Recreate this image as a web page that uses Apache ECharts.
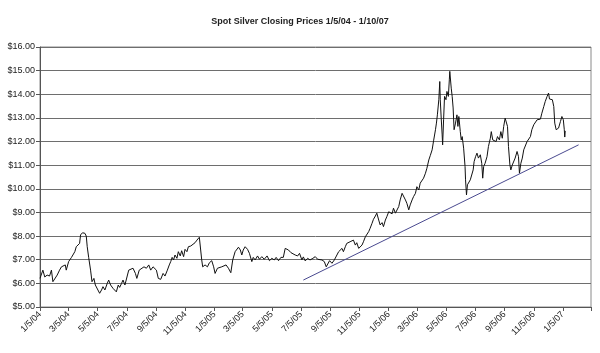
<!DOCTYPE html>
<html>
<head>
<meta charset="utf-8">
<script src="https://cdn.jsdelivr.net/npm/echarts@6/dist/echarts.min.js"></script>
<style>html,body{margin:0;padding:0;background:#fff}#c{width:600px;height:353px}</style>
</head>
<body>
<div id="c"></div>
<script>
// Axis range (calendar days) and start date
const startDate = '2004-01-05';
const endDate = '2007-03-05';
// Closing prices: days since 1/5/04, and price in $
const priceDays = [0,6,10,15,20,24,27,31,36,41,45,48,53,55,60,66,69,73,76,80,83,85,89,94,97,99,102,104,106,109,113,116,120,125,129,132,136,141,144,148,153,157,160,164,167,171,174,178,181,186,190,195,200,203,208,212,218,223,228,232,237,241,244,248,253,258,262,267,271,274,277,280,283,287,290,294,297,301,304,308,311,316,320,325,329,334,336,339,341,346,351,355,360,364,367,372,376,381,385,390,395,400,404,409,413,416,420,423,426,430,435,439,444,447,451,456,460,465,470,476,481,486,491,495,500,505,510,514,518,521,526,530,535,540,544,549,552,556,561,566,572,577,582,586,591,596,600,603,607,612,617,621,626,629,633,636,640,643,647,650,654,657,661,664,668,671,675,678,682,685,689,692,696,699,703,706,710,713,717,720,724,727,731,734,738,741,745,748,752,755,759,762,766,769,773,776,780,783,787,790,794,797,801,804,808,811,815,818,822,825,829,831,833,836,838,839,841,843,844,846,848,851,853,856,858,859,862,864,866,868,871,874,876,878,881,883,885,888,891,892,894,896,899,902,906,908,910,913,916,919,923,926,928,930,933,937,940,944,946,949,952,956,959,963,966,969,972,975,978,980,982,985,987,990,993,996,1000,1003,1005,1008,1011,1014,1017,1021,1024,1028,1031,1035,1038,1042,1045,1049,1052,1056,1059,1063,1066,1068,1071,1074,1077,1079,1082,1085,1087,1091,1094,1097,1099,1100,1101];
const prices = [6.21,6.56,6.27,6.35,6.31,6.56,6.07,6.03,6.35,6.56,6.70,6.64,6.78,6.56,6.92,7.10,7.06,7.34,7.55,7.62,7.69,8.05,8.14,8.12,8.00,7.55,7.10,7.10,6.56,6.07,6.21,5.93,5.93,5.58,5.72,5.86,5.72,6.00,6.14,5.93,5.79,5.86,5.64,5.93,5.83,6.00,6.14,5.93,5.93,6.56,6.49,6.64,6.42,6.21,6.56,6.64,6.70,6.64,6.78,6.56,6.70,6.78,6.56,6.21,6.17,6.42,6.31,6.56,6.78,6.92,7.10,6.99,7.20,7.06,7.34,7.16,7.38,7.13,7.44,7.34,7.55,7.58,7.66,7.72,7.83,7.95,7.91,6.99,6.70,6.78,6.70,6.87,6.96,6.70,6.42,6.64,6.56,6.70,6.64,6.78,6.64,6.45,6.99,7.34,7.27,7.53,7.41,7.20,7.41,7.55,7.44,7.27,6.92,7.10,6.99,7.16,7.02,7.13,7.02,7.16,6.96,7.06,6.99,7.10,6.96,7.10,7.10,7.48,7.53,7.41,7.30,7.38,7.20,7.16,7.27,6.99,7.12,6.95,7.06,6.99,7.06,7.13,7.02,7.10,6.99,6.92,6.70,6.64,6.96,6.85,6.99,6.99,7.34,7.27,7.48,7.34,7.55,7.69,7.62,7.76,7.69,7.83,7.62,7.72,7.48,7.55,7.62,7.76,7.97,8.05,8.19,8.33,8.54,8.71,8.85,8.97,8.68,8.47,8.57,8.40,8.68,8.82,9.03,9.11,8.94,9.18,8.97,8.89,9.25,9.53,9.81,9.74,9.53,9.39,9.11,9.32,9.53,9.67,9.81,10.09,9.95,10.24,10.24,10.45,10.66,10.87,11.22,11.40,11.65,12.03,12.50,12.78,13.13,13.77,14.54,13.77,12.99,12.28,11.86,12.92,13.91,13.77,14.12,13.91,14.61,14.97,14.26,13.91,13.42,12.50,12.78,13.13,12.64,13.06,12.42,12.07,12.21,11.72,10.94,10.38,9.74,10.17,10.09,10.38,10.31,10.80,11.15,11.36,11.51,11.30,11.44,11.08,10.45,10.94,11.08,11.36,11.79,12.14,12.42,12.07,12.14,12.00,12.21,12.07,12.42,12.14,12.64,12.99,13.03,12.64,11.79,11.01,10.80,11.01,10.94,11.30,11.58,11.36,10.66,11.08,11.30,11.65,11.72,12.00,11.93,12.21,12.50,12.71,12.64,12.92,12.99,12.95,13.20,13.48,13.69,13.91,14.05,13.80,13.84,13.77,13.48,12.78,12.50,12.42,12.57,12.85,13.06,12.92,12.50,12.19,12.45];
// Trend line endpoints
const trendDays = [552, 1129];
const trendValues = [6.14, 11.86];
// Y axis ticks
const yMin = 5, yMax = 16, yStep = 1;
const titleText = 'Spot Silver Closing Prices 1/5/04 - 1/10/07';

// Build calendar-day categories
const dayCats = [];
(function(){
  const d = new Date(startDate + 'T00:00:00Z');
  const e = new Date(endDate + 'T00:00:00Z');
  while (d <= e) { dayCats.push(d.toISOString().slice(0,10)); d.setUTCDate(d.getUTCDate()+1); }
})();
const isTickDay = (v) => v.slice(8,10) === '05' && parseInt(v.slice(5,7),10) % 2 === 1;
const lastIdx = dayCats.length - 1;

const chart = echarts.init(document.getElementById('c'), null, {renderer:'canvas'});
chart.setOption({
  animation: false,
  backgroundColor: '#fff',
  title: {
    text: titleText, left: 'center', top: 12,
    textStyle: {fontFamily: 'Liberation Sans, Arial', fontSize: 9, fontWeight: 'bold', color: '#222'}
  },
  grid: {left: 40, right: 9, top: 47, bottom: 46, show: true, borderColor: '#8a8a8a', borderWidth: 1},
  xAxis: {
    type: 'category', data: dayCats, boundaryGap: false,
    axisLine: {lineStyle: {color: '#555', width: 1}},
    axisTick: {show: true, length: 4, interval: (i, v) => isTickDay(v), lineStyle: {color: '#555'}},
    axisLabel: {
      interval: (i, v) => isTickDay(v) && i !== lastIdx,
      rotate: 45, fontSize: 9, color: '#222', margin: 6,
      fontFamily: 'Liberation Sans, Arial',
      formatter: (v) => { const m = parseInt(v.slice(5,7),10), d = parseInt(v.slice(8,10),10), y = v.slice(2,4); return m + '/' + d + '/' + y; }
    },
    splitLine: {show: false}
  },
  yAxis: {
    type: 'value', min: yMin, max: yMax, interval: yStep,
    axisLine: {show: true, lineStyle: {color: '#555', width: 1}},
    axisTick: {show: true, length: 4, lineStyle: {color: '#555'}},
    axisLabel: {fontSize: 9, color: '#222', margin: 5, fontFamily: 'Liberation Sans, Arial', formatter: (v) => '$' + v.toFixed(2)},
    splitLine: {show: true, lineStyle: {color: '#6e6e6e', width: 1}}
  },
  series: [
    {
      type: 'line', symbol: 'none', silent: true,
      data: priceDays.map((d, i) => [d, prices[i]]),
      lineStyle: {color: '#111', width: 1}
    },
    {
      type: 'line', symbol: 'none', silent: true,
      data: trendDays.map((d, i) => [d, trendValues[i]]),
      lineStyle: {color: '#4a4a90', width: 1}
    }
  ]
});
</script>
</body>
</html>
